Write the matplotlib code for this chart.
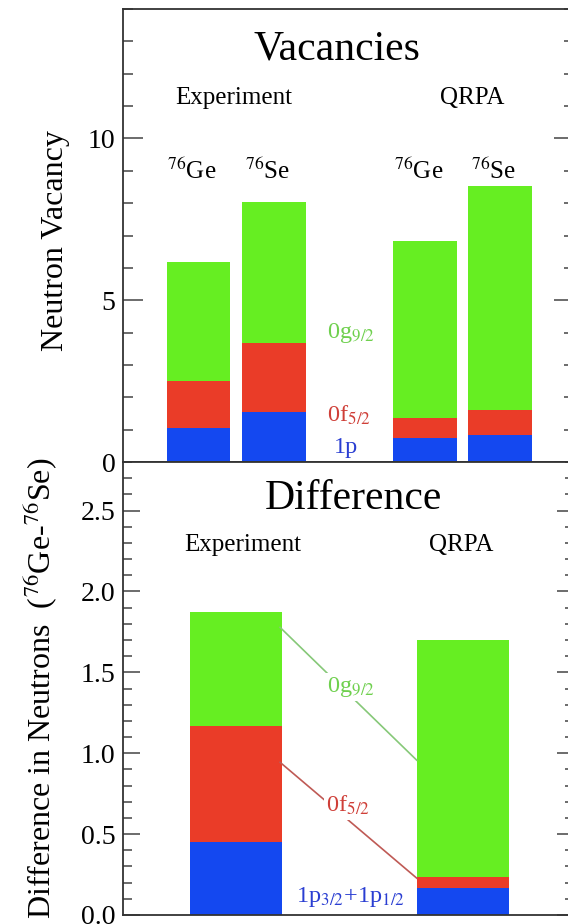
import matplotlib
matplotlib.use('Agg')
import matplotlib.pyplot as plt
from matplotlib.ticker import MultipleLocator, FormatStrFormatter

plt.rcParams['font.family'] = ['Liberation Serif', 'DejaVu Serif']
plt.rcParams['mathtext.fontset'] = 'stix'

# ---------------- data ----------------
# Top panel: neutron vacancies (stacked: 1p, 0f5/2, 0g9/2)
vac_groups = ['Experiment', 'QRPA']
vac_isotopes = [r'$^{76}$Ge', r'$^{76}$Se', r'$^{76}$Ge', r'$^{76}$Se']
vac_pos = [1, 2, 4, 5]
vac_1p = [1.05, 1.54, 0.74, 0.84]
vac_0f = [1.44, 2.15, 0.62, 0.77]
vac_0g = [3.68, 4.34, 5.46, 6.91]

# Bottom panel: difference (76Ge - 76Se)
diff_groups = ['Experiment', 'QRPA']
diff_pos = [1.5, 4.5]
diff_1p = [0.45, 0.165]
diff_0f = [0.72, 0.07]
diff_0g = [0.705, 1.465]

# connector annotation lines (bottom panel)
conn_g_x = [2.08, 3.89]
conn_g_y = [1.778, 0.957]
conn_r_x = [2.08, 3.89]
conn_r_y = [0.944, 0.228]

# ---------------- style ----------------
GREEN = '#66EE22'
RED = '#EA3C28'
BLUE = '#1448F0'
GREEN_T = '#6FD04E'
RED_T = '#CF3F38'
BLUE_T = '#2A3ED2'
SPINE = '#333333'

fig = plt.figure(figsize=(5.68, 9.24), dpi=100)
L = 123 / 568
W = 451 / 568
ax1 = fig.add_axes([L, 0.5, W, 1 - 9 / 924 - 0.5])
ax2 = fig.add_axes([L, 1 - 915 / 924, W, 0.5 - (1 - 915 / 924)])

XMAX = 451 / 75.5

def style_axis(ax, ymax, major, minor, fmt, mlen, mnlen):
    ax.set_xlim(0, XMAX)
    ax.set_ylim(0, ymax)
    ax.yaxis.set_major_locator(MultipleLocator(major))
    ax.yaxis.set_minor_locator(MultipleLocator(minor))
    ax.yaxis.set_major_formatter(FormatStrFormatter(fmt))
    ax.set_xticks([])
    ax.tick_params(axis='y', which='both', direction='in', left=True, right=True,
                   color='#444444', width=1.1, labelsize=20, pad=5.5)
    ax.tick_params(axis='y', which='major', length=mlen)
    ax.tick_params(axis='y', which='minor', length=mnlen)
    for s in ax.spines.values():
        s.set_color(SPINE)
        s.set_linewidth(1.3)

# ---------------- top panel ----------------
bw = 64 / 75.5
b2 = [a + b for a, b in zip(vac_1p, vac_0f)]
ax1.bar(vac_pos, vac_1p, width=bw, color=BLUE, linewidth=0)
ax1.bar(vac_pos, vac_0f, bottom=vac_1p, width=bw, color=RED, linewidth=0)
ax1.bar(vac_pos, vac_0g, bottom=b2, width=bw, color=GREEN, linewidth=0)
style_axis(ax1, 14, 5, 1, '%d', 14.5, 7.2)

ax1.text(2.83, 12.45, 'Vacancies', fontsize=30, ha='center', va='baseline')
ax1.text(1.46, 11.05, vac_groups[0], fontsize=18, ha='center', va='baseline')
ax1.text(4.62, 11.05, vac_groups[1], fontsize=18, ha='center', va='baseline')
for xp, lab in zip(vac_pos, vac_isotopes):
    ax1.text(xp - 0.09, 8.76, lab, fontsize=18, ha='center', va='baseline')

ax1.text(3.02, 3.84, r'0g$_{9/2}$', fontsize=17.5, color=GREEN_T, ha='center', va='baseline')
ax1.text(2.99, 1.24, r'0f$_{5/2}$', fontsize=17.5, color=RED_T, ha='center', va='baseline')
ax1.text(2.95, 0.28, '1p', fontsize=17.5, color=BLUE_T, ha='center', va='baseline')

# ---------------- bottom panel ----------------
bw2 = 1.22
d2 = [a + b for a, b in zip(diff_1p, diff_0f)]
ax2.bar(diff_pos, diff_1p, width=bw2, color=BLUE, linewidth=0)
ax2.bar(diff_pos, diff_0f, bottom=diff_1p, width=bw2, color=RED, linewidth=0)
ax2.bar(diff_pos, diff_0g, bottom=d2, width=bw2, color=GREEN, linewidth=0)
style_axis(ax2, 2.8, 0.5, 0.1, '%.1f', 12.5, 6.5)

ax2.plot(conn_g_x, conn_g_y, color='#86C878', lw=1.2, zorder=2)
ax2.plot(conn_r_x, conn_r_y, color='#BF5A55', lw=1.2, zorder=2)

ax2.text(3.05, 2.51, 'Difference', fontsize=30, ha='center', va='baseline')
ax2.text(1.59, 2.25, diff_groups[0], fontsize=18, ha='center', va='baseline')
ax2.text(4.48, 2.25, diff_groups[1], fontsize=18, ha='center', va='baseline')

box = dict(facecolor='white', edgecolor='none', pad=1.5)
ax2.text(3.02, 1.377, r'0g$_{9/2}$', fontsize=17.5, color=GREEN_T, ha='center',
         va='baseline', bbox=box, zorder=3)
ax2.text(2.98, 0.636, r'0f$_{5/2}$', fontsize=17.5, color=RED_T, ha='center',
         va='baseline', bbox=box, zorder=3)
ax2.text(3.02, 0.08, r'1p$_{3/2}$+1p$_{1/2}$', fontsize=17.5, color=BLUE_T,
         ha='center', va='baseline', zorder=3)

# ---------------- axis labels ----------------
fig.text(55 / 568, 1 - 241 / 924, 'Neutron Vacancy', rotation=90, fontsize=23,
         ha='center', va='center')
fig.text(40 / 568, 1 - 688 / 924, r'Difference in Neutrons  ($^{76}$Ge-$^{76}$Se)',
         rotation=90, fontsize=23, ha='center', va='center')

fig.savefig('out.png', dpi=100)
